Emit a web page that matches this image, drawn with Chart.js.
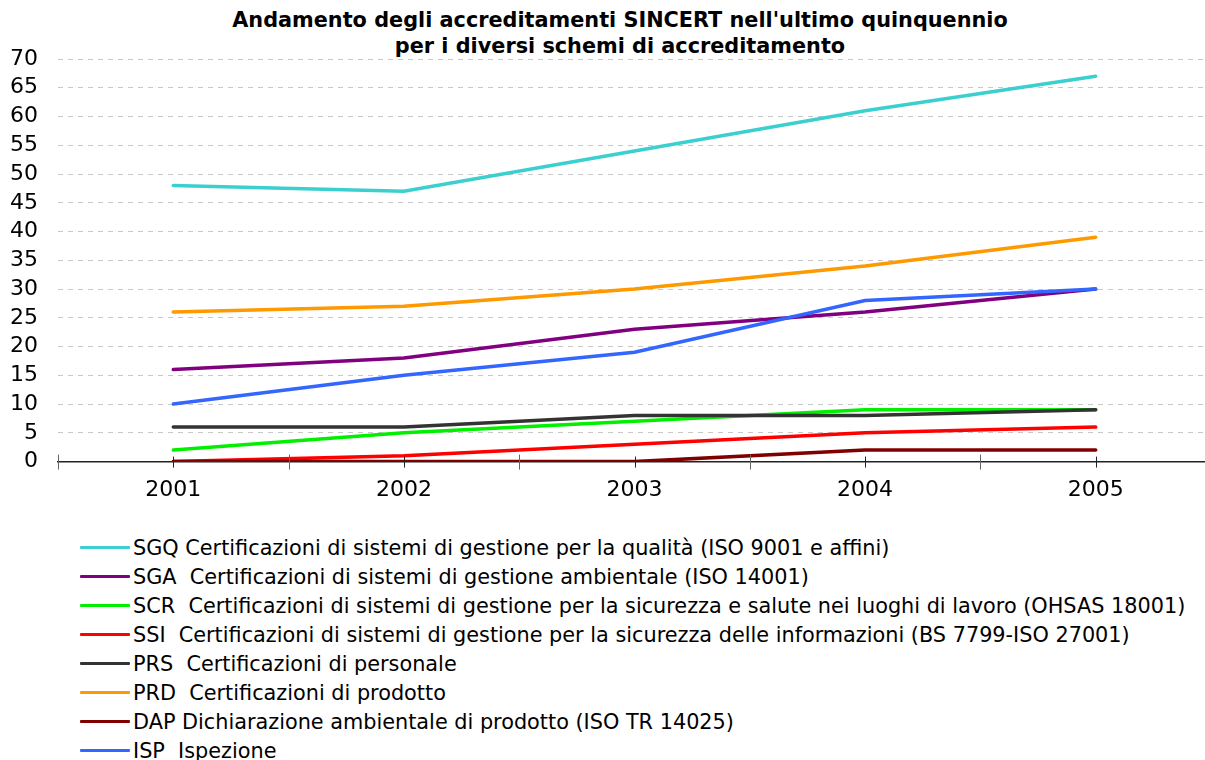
<!DOCTYPE html>
<html>
<head>
<meta charset="utf-8">
<script src="https://cdn.jsdelivr.net/npm/chart.js@4/dist/chart.umd.min.js"></script>
<style>
  body { margin: 0; background: #fff; width: 1205px; height: 760px; overflow: hidden; position: relative; font-family: "DejaVu Sans", Verdana, sans-serif; }
  #title { position: absolute; left: 0; top: 7px; width: 1240px; text-align: center; font-weight: bold; font-size: 20.8px; line-height: 26px; color: #000; }
  #wrap { position: absolute; left: 0; top: 0; width: 1212px; height: 524px; }
  #legend { position: absolute; left: 80px; top: 533px; }
  .item { height: 29px; display: flex; align-items: center; white-space: pre; font-size: 20.8px; color: #000; }
  .sw { width: 50px; height: 3px; margin-right: 3px; border-radius: 1px; }
</style>
</head>
<body>
<div id="title">Andamento degli accreditamenti SINCERT nell'ultimo quinquennio<br>per i diversi schemi di accreditamento</div>
<div id="wrap"><canvas id="chart" width="1212" height="524"></canvas></div>
<div id="legend"></div>
<script>
const years = ['2001', '2002', '2003', '2004', '2005'];

const sgq = [48, 47, 54, 61, 67];
const sga = [16, 18, 23, 26, 30];
const scr = [2, 5, 7, 9, 9];
const ssi = [0, 1, 3, 5, 6];
const prs = [6, 6, 8, 8, 9];
const prd = [26, 27, 30, 34, 39];
const dap = [0, 0, 0, 2, 2];
const isp = [10, 15, 19, 28, 30];

const labels = [
  'SGQ Certificazioni di sistemi di gestione per la qualità (ISO 9001 e affini)',
  'SGA  Certificazioni di sistemi di gestione ambientale (ISO 14001)',
  'SCR  Certificazioni di sistemi di gestione per la sicurezza e salute nei luoghi di lavoro (OHSAS 18001)',
  'SSI  Certificazioni di sistemi di gestione per la sicurezza delle informazioni (BS 7799-ISO 27001)',
  'PRS  Certificazioni di personale',
  'PRD  Certificazioni di prodotto',
  'DAP Dichiarazione ambientale di prodotto (ISO TR 14025)',
  'ISP  Ispezione',
];

const FONT = '"DejaVu Sans", Verdana, sans-serif';

function line(label, data, color, order) {
  return {
    label, data,
    borderColor: color,
    backgroundColor: color,
    borderWidth: 3.5,
    borderCapStyle: 'round',
    pointRadius: 0,
    tension: 0,
    fill: false,
    order,
  };
}

// tick marks on the x axis: at each year and halfway between
const xTicks = {
  id: 'xTicks',
  afterDraw(chart) {
    const x = chart.scales.x;
    const ctx = chart.ctx;
    const y0 = chart.chartArea.bottom;
    const half = (x.getPixelForValue(1) - x.getPixelForValue(0)) / 2;
    ctx.save();
    ctx.lineWidth = 1;
    for (let i = 0; i < years.length; i++) {
      const c = x.getPixelForValue(i);
      ctx.strokeStyle = '#222';
      ctx.beginPath();
      ctx.moveTo(Math.round(c) + 0.5, y0 - 5);
      ctx.lineTo(Math.round(c) + 0.5, y0 + 6);
      ctx.stroke();
      ctx.strokeStyle = '#666';
      ctx.beginPath();
      ctx.moveTo(Math.round(c - half) + 0.5, y0 - 7);
      ctx.lineTo(Math.round(c - half) + 0.5, y0 + 8);
      ctx.stroke();
    }
    ctx.restore();
  }
};

const chart = new Chart(document.getElementById('chart'), {
  type: 'line',
  data: {
    labels: years,
    datasets: [
      line(labels[0], sgq, '#3ccfcf', 8),
      line(labels[1], sga, '#800080', 7),
      line(labels[2], scr, '#00f000', 6),
      line(labels[3], ssi, '#ff0000', 5),
      line(labels[4], prs, '#333333', 4),
      line(labels[5], prd, '#ff9900', 3),
      line(labels[6], dap, '#800000', 2),
      line(labels[7], isp, '#3366ff', 1),
    ],
  },
  options: {
    responsive: false,
    animation: false,
    layout: { padding: { top: 59, left: 10, right: 1, bottom: 6 } },
    plugins: {
      legend: { display: false },
      title: { display: false },
      tooltip: { enabled: false },
    },
    scales: {
      x: {
        offset: true,
        grid: { display: false, drawTicks: false },
        border: { display: true, color: '#222', width: 1.5 },
        ticks: { color: '#000', font: { family: FONT, size: 22 }, padding: 15 },
      },
      y: {
        min: 0,
        max: 70,
        afterFit(scale) { scale.width = 48; },
        ticks: { stepSize: 5, autoSkip: false, color: '#000', font: { family: FONT, size: 22 }, padding: 20 },
        grid: { color: '#c8c8c8', lineWidth: 1, drawTicks: false },
        border: { display: false, dash: [5, 5] },
      },
    },
  },
  plugins: [xTicks],
});

// legend built from the datasets, one per row
const legend = document.getElementById('legend');
chart.data.datasets.forEach(ds => {
  const item = document.createElement('div');
  item.className = 'item';
  const sw = document.createElement('span');
  sw.className = 'sw';
  sw.style.background = ds.borderColor;
  const txt = document.createElement('span');
  txt.textContent = ds.label;
  item.appendChild(sw);
  item.appendChild(txt);
  legend.appendChild(item);
});
</script>
</body>
</html>
